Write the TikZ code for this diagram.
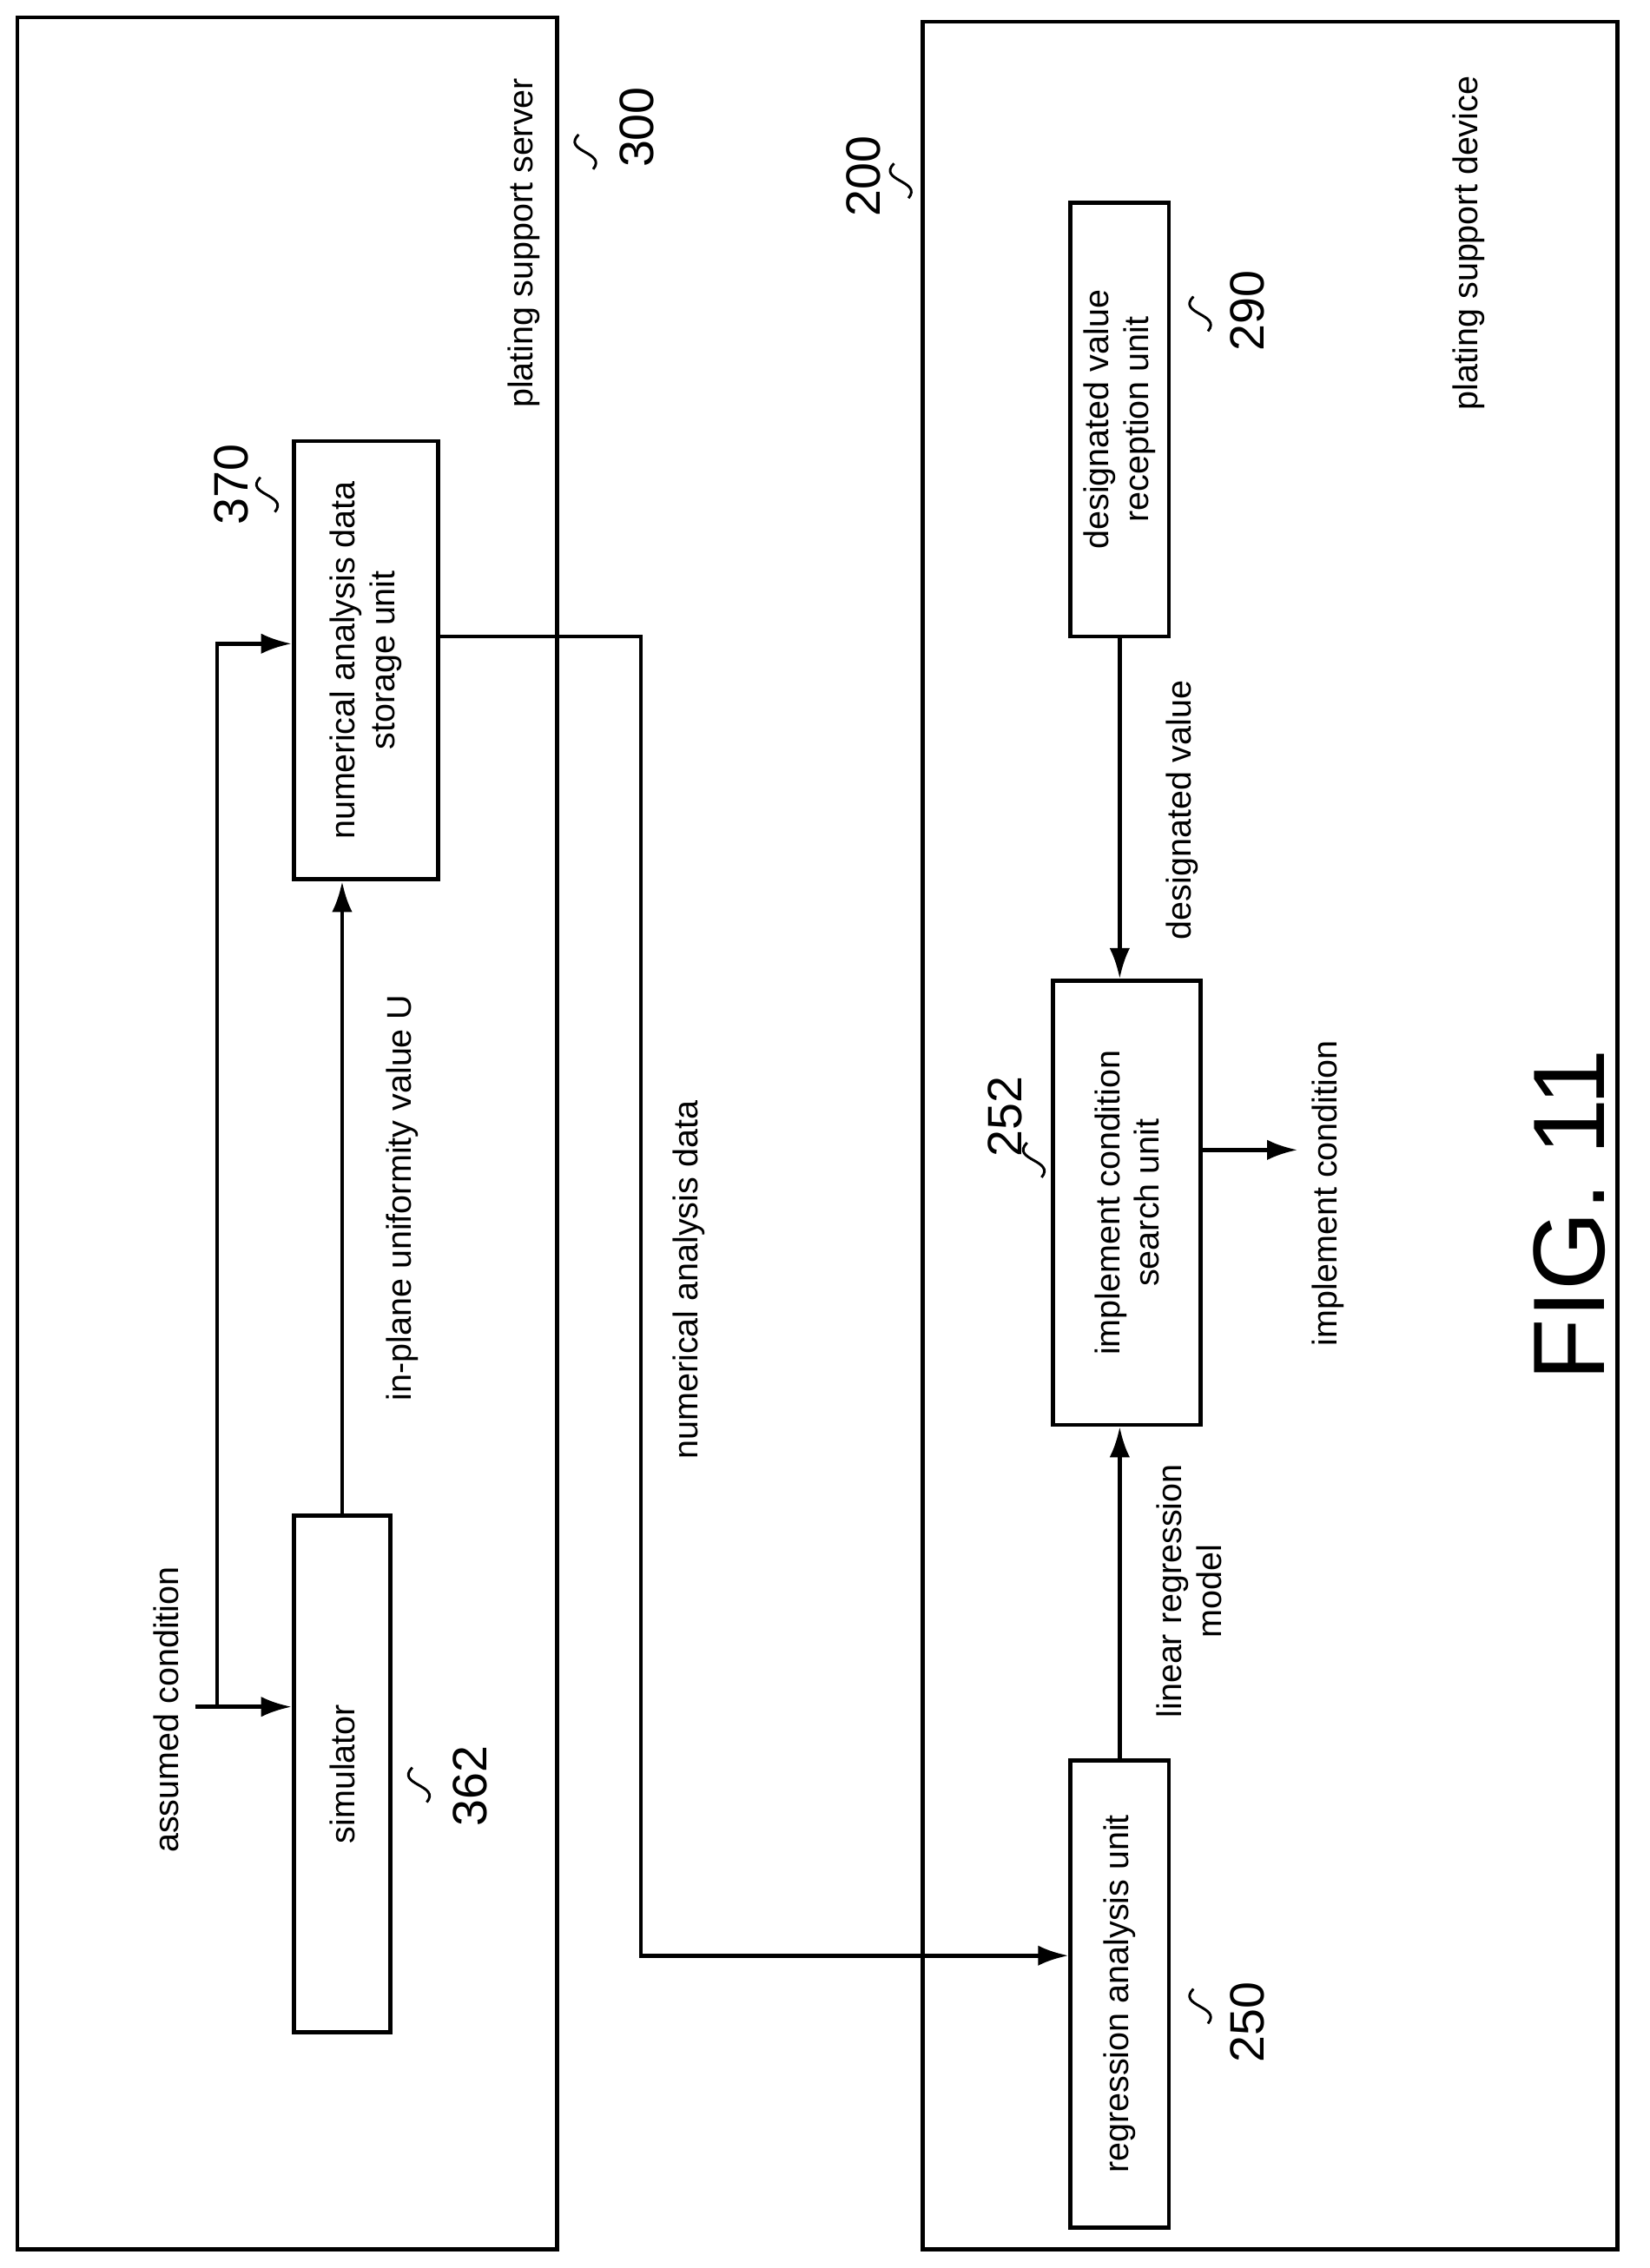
\documentclass[tikz,border=0pt]{standalone}
\usepackage{fontspec}
\setmainfont{Liberation Sans}
\usetikzlibrary{arrows.meta}
\begin{document}
\begin{tikzpicture}[x=0.02cm,y=-0.02cm,
  box/.style={draw,line width=1.6pt},
  unit/.style={draw,line width=1.6pt,inner sep=0pt},
  lab/.style={rotate=90,align=center,font=\fontsize{13.5}{15.5}\selectfont},
  num/.style={rotate=90,font=\fontsize{19}{21}\selectfont},
  con/.style={line width=1.6pt,-{Latex[length=12pt,width=8pt]}},
  sq/.style={line width=1pt}]
\useasboundingbox (0,0) rectangle (1140,1568);
\draw[box] (12,12) rectangle (385,1555);
\draw[box] (638,15) rectangle (1118,1555);
\node[lab] (srv) at (362,168) {plating support server};
\node[lab] (dev) at (1015,168) {plating support device};
\node[num] (n300) at (440,88) {300};
\node[num] (n200) at (597,122) {200};
\draw[sq] (400,93) .. controls (388,105) and (420,105) .. (410,117);
\draw[sq] (618,113) .. controls (606,125) and (638,125) .. (628,137);
% boxes
\node[unit,minimum width=100*0.02cm,minimum height=303*0.02cm] (nad) at (253,456.5) {};
\node[lab] (nadt) at (nad) {numerical analysis data\\storage unit};
\node[unit,minimum width=67*0.02cm,minimum height=357*0.02cm] (sim) at (236.5,1226.5) {};
\node[lab] (simt) at (sim) {simulator};
\node[unit,minimum width=68*0.02cm,minimum height=323*0.02cm] (reg) at (774,1378.5) {};
\node[lab] (regt) at (reg) {regression analysis unit};
\node[unit,minimum width=102*0.02cm,minimum height=307*0.02cm] (imp) at (779,831.5) {};
\node[lab] (impt) at (imp) {implement condition\\search unit};
\node[unit,minimum width=68*0.02cm,minimum height=300*0.02cm] (des) at (774,290) {};
\node[lab] (dest) at (des) {designated value\\reception unit};
\node[num] (n370) at (160,335) {370};
\draw[sq] (180,330) .. controls (168,342) and (200,342) .. (190,354);
\node[num] (n362) at (325,1235) {362};
\draw[sq] (285,1222) .. controls (273,1234) and (305,1234) .. (295,1246);
\node[num] (n250) at (862,1398) {250};
\draw[sq] (825,1375) .. controls (813,1387) and (845,1387) .. (835,1399);
\node[num] (n252) at (695,772) {252};
\draw[sq] (710,790) .. controls (698,802) and (730,802) .. (720,814);
\node[num] (n290) at (862,215) {290};
\draw[sq] (825,205) .. controls (813,217) and (845,217) .. (835,229);
% connectors
\draw[con] (sim.north) -- (sim.north |- nad.south);
\node[lab] (inu) at (278,828) {in-plane uniformity value U};
\node[lab] (ac) at (115,1182) {assumed condition};
\coordinate (a0) at (135,1180);
\coordinate (a1) at (150,1180);
\coordinate (a2) at (150,445);
\draw[con] (a0) -- (sim.west |- a0);
\draw[con] (a1) -- (a2) -- (nad.west |- a2);
\coordinate (b1) at (443,440);
\coordinate (b2) at (443,1352);
\draw[con] (nad.east |- b1) -- (b1) -- (b2) -- (reg.west |- b2);
\node[lab] (nadl) at (476,885) {numerical analysis data};
\draw[con] (reg.north) -- (reg.north |- imp.south);
\node[lab] (lrm) at (822,1100) {linear regression\\model};
\draw[con] (des.south) -- (des.south |- imp.north);
\node[lab] (dvl) at (817,560) {designated value};
\coordinate (c1) at (897,795);
\draw[con] (imp.east |- c1) -- (c1);
\node[lab] (icl) at (918,825) {implement condition};
\node[rotate=90,font=\fontsize{40}{44}\selectfont] (fig) at (1085,840) {FIG. 11};
\end{tikzpicture}
\end{document}
